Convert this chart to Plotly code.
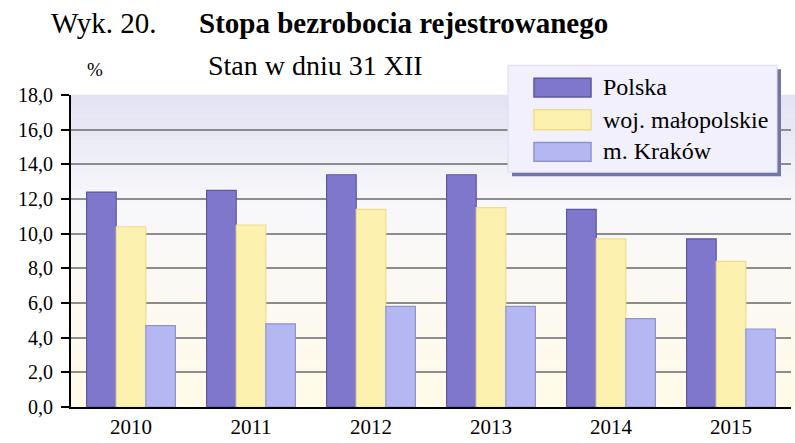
import plotly.graph_objects as go

years = ["2010", "2011", "2012", "2013", "2014", "2015"]
series_names = ["Polska", "woj. małopolskie", "m. Kraków"]
polska = [12.4, 12.5, 13.4, 13.4, 11.4, 9.7]
malopolskie = [10.4, 10.5, 11.4, 11.5, 9.7, 8.4]
krakow = [4.7, 4.8, 5.8, 5.8, 5.1, 4.5]
y_ticks = [0, 2, 4, 6, 8, 10, 12, 14, 16, 18]

values = [polska, malopolskie, krakow]
fills = ["#7f77cc", "#fdf1b0", "#b5b7f3"]
borders = ["#5d55a8", "#efdc8c", "#8f94cf"]

W, H = 795, 443
L, R, T, B = 71, 4, 95, 33
PW, PH = W - L - R, H - T - B

def px(x):
    return (x - L) / PW

def py(y):
    return (H - B - y) / PH

FONT = "Liberation Serif"

fig = go.Figure()
for name, vals, fc, bc in zip(series_names, values, fills, borders):
    fig.add_trace(go.Bar(
        x=years, y=vals, name=name,
        marker=dict(color=fc, line=dict(color=bc, width=1.2)),
        showlegend=False,
    ))

shapes = []
# vertical gradient background of plot area
top = (226, 226, 243)
mid = (248, 248, 251)
bot = (255, 251, 232)
n = 60
for i in range(n):
    t = i / (n - 1)
    if t < 0.35:
        u = t / 0.35
        c = tuple(round(top[k] + (mid[k] - top[k]) * u) for k in range(3))
    else:
        u = (t - 0.35) / 0.65
        c = tuple(round(mid[k] + (bot[k] - mid[k]) * u) for k in range(3))
    shapes.append(dict(type="rect", xref="paper", yref="paper",
                       x0=0, x1=1.01, y0=1 - (i + 1) / n, y1=1 - i / n + 0.001,
                       fillcolor="rgb(%d,%d,%d)" % c, line=dict(width=0),
                       layer="below"))

# legend box (manual)
lx0, lx1, ly0, ly1 = 508, 777, 65, 173
shapes.append(dict(type="rect", xref="paper", yref="paper",
                   x0=px(lx0 + 4), x1=px(lx1 + 4), y0=py(ly1 + 4), y1=py(ly0 + 4),
                   fillcolor="#7474a6", line=dict(width=0)))
shapes.append(dict(type="rect", xref="paper", yref="paper",
                   x0=px(lx0), x1=px(lx1), y0=py(ly1), y1=py(ly0),
                   fillcolor="#f1f0fc", line=dict(color="#dcdcf0", width=1)))
sw_y = [(78, 97), (110, 130), (143, 162)]
txt_y = [87, 120, 152]
annotations = []
for (a, b), ty, name, fc, bc in zip(sw_y, txt_y, series_names, fills, borders):
    shapes.append(dict(type="rect", xref="paper", yref="paper",
                       x0=px(534), x1=px(591), y0=py(b), y1=py(a),
                       fillcolor=fc, line=dict(color=bc, width=1.5)))
    annotations.append(dict(text=name, xref="paper", yref="paper",
                            x=px(601), y=py(ty), xanchor="left", yanchor="middle",
                            showarrow=False, font=dict(family=FONT, size=24, color="#000")))

annotations += [
    dict(text="Wyk. 20.", xref="paper", yref="paper", x=px(49), y=py(22),
         xanchor="left", yanchor="middle", showarrow=False,
         font=dict(family=FONT, size=29, color="#000")),
    dict(text="<b>Stopa bezrobocia rejestrowanego</b>", xref="paper", yref="paper",
         x=px(197), y=py(22), xanchor="left", yanchor="middle", showarrow=False,
         font=dict(family=FONT, size=29, color="#000")),
    dict(text="Stan w dniu 31 XII", xref="paper", yref="paper", x=px(206), y=py(65),
         xanchor="left", yanchor="middle", showarrow=False,
         font=dict(family=FONT, size=28, color="#000")),
    dict(text="%", xref="paper", yref="paper", x=px(95), y=py(69),
         xanchor="center", yanchor="middle", showarrow=False,
         font=dict(family=FONT, size=19, color="#000")),
]

fig.update_layout(
    width=W, height=H,
    margin=dict(l=L, r=R, t=T, b=B, pad=0),
    paper_bgcolor="white", plot_bgcolor="rgba(0,0,0,0)",
    barmode="group", bargap=0.26, bargroupgap=0,
    separators=", ",
    shapes=shapes, annotations=annotations,
    font=dict(family=FONT, size=20, color="#000"),
    showlegend=False,
)
fig.update_xaxes(
    showline=True, linecolor="#000", linewidth=2, showgrid=False,
    ticks="", tickfont=dict(family=FONT, size=21, color="#000"),
    range=[-0.5, 5.5], fixedrange=True,
)
fig.update_yaxes(
    range=[0, 18], tickvals=y_ticks, tickformat=".1f",
    showline=True, linecolor="#000", linewidth=2,
    ticks="outside", ticklen=8, tickcolor="#000", tickwidth=1.5,
    showgrid=True, gridcolor="#8c8c8c", gridwidth=2,
    zeroline=False, tickfont=dict(family=FONT, size=20, color="#000"),
    ticklabelstandoff=4,
)

fig.write_html(
    "out.html",
    config={"displayModeBar": False},
    post_script="document.body.style.margin='0';document.body.style.overflow='hidden';",
)
